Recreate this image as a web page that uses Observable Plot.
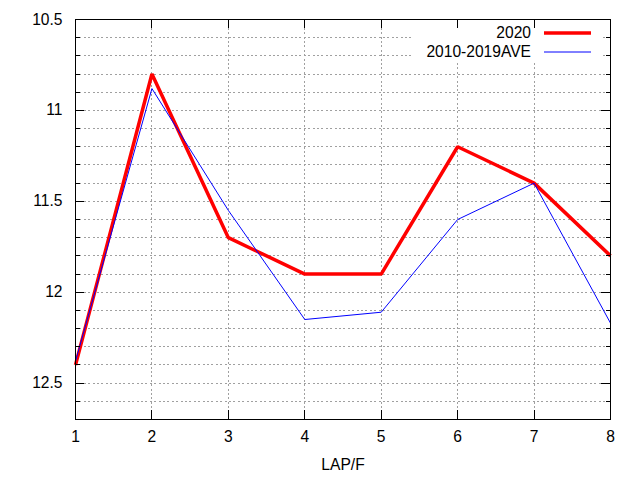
<!DOCTYPE html>
<html>
<head>
<meta charset="utf-8">
<script src="https://cdn.jsdelivr.net/npm/d3@7"></script>
<script src="https://cdn.jsdelivr.net/npm/@observablehq/plot@0.6"></script>
<style>
  html, body { margin: 0; padding: 0; background: #fff; }
  #chart svg { display: block; }
</style>
</head>
<body>
<div id="chart"></div>
<script>
const laps = [1, 2, 3, 4, 5, 6, 7, 8];
const series2020 = [12.4, 10.8, 11.7, 11.9, 11.9, 11.2, 11.4, 11.8];
const seriesAve = [12.38, 10.88, 11.55, 12.15, 12.11, 11.6, 11.4, 12.17];
const seriesNames = ["2020", "2010-2019AVE"];
const seriesColors = ["#ff0000", "#0000ff"];
const seriesWidths = [3.5, 1];
const yMajorTicks = [10.5, 11, 11.5, 12, 12.5];
const yMinorTicks = [10.6, 10.7, 10.8, 10.9, 11.1, 11.2, 11.3, 11.4, 11.6, 11.7, 11.8, 11.9, 12.1, 12.2, 12.3, 12.4, 12.6];
const yGridTicks = [10.6, 10.7, 10.8, 10.9, 11, 11.1, 11.2, 11.3, 11.4, 11.5, 11.6, 11.7, 11.8, 11.9, 12, 12.1, 12.2, 12.3, 12.4, 12.5, 12.6];
const xGridTicks = [2, 3, 4, 5, 6, 7];
const xLabel = "LAP/F";

(function () {
const data = [];
laps.forEach((lap, i) => {
  data.push({lap, time: series2020[i], series: seriesNames[0]});
});
laps.forEach((lap, i) => {
  data.push({lap, time: seriesAve[i], series: seriesNames[1]});
});

const font = "'Liberation Sans', Arial, Helvetica, sans-serif";
const fs = 15.6;
const gridStyle = {stroke: "#a0a0a0", strokeOpacity: 1, strokeWidth: 1, strokeDasharray: "2,2.4", shapeRendering: "crispEdges"};

const plot = Plot.plot({
  width: 640,
  height: 480,
  marginLeft: 75,
  marginTop: 19,
  marginRight: 30,
  marginBottom: 61,
  style: {fontFamily: font, fontSize: fs + "px", color: "#000", background: "#fff", overflow: "visible"},
  x: {domain: [1, 8]},
  y: {domain: [10.5, 12.7], reverse: true},
  marks: [
    Plot.gridY(yGridTicks, gridStyle),
    Plot.gridX(xGridTicks, gridStyle),
    Plot.axisY(yMajorTicks, {tickSize: 0, tickPadding: 13, tickFormat: d => String(d), label: null, fontSize: fs}),
    Plot.axisX(laps, {tickSize: 0, tickPadding: 11, tickFormat: d => String(d), label: null, fontSize: fs}),
    Plot.text([xLabel], {text: d => d, frameAnchor: "bottom", dy: 50, fontSize: fs}),
    ...seriesNames.map((name, i) =>
      Plot.line(data.filter(d => d.series === name), {
        x: "lap", y: "time", stroke: seriesColors[i], strokeWidth: seriesWidths[i], strokeLinejoin: "miter", strokeLinecap: "butt"
      })
    ),
    Plot.frame({stroke: "#000", strokeWidth: 1})
  ]
});

document.getElementById("chart").appendChild(plot);

const sx = plot.scale("x");
const sy = plot.scale("y");
const svg = d3.select(plot);
const xLeft = Math.min(...sx.range), xRight = Math.max(...sx.range);
const yTop = Math.min(...sy.range), yBottom = Math.max(...sy.range);
const tg = svg.append("g").attr("stroke", "#000").attr("stroke-width", 1).attr("shape-rendering", "crispEdges");
yMajorTicks.forEach(v => {
  const y = Math.round(sy.apply(v)) + 0.5;
  tg.append("line").attr("x1", xLeft).attr("x2", xLeft + 9).attr("y1", y).attr("y2", y);
  tg.append("line").attr("x1", xRight).attr("x2", xRight - 9).attr("y1", y).attr("y2", y);
});
yMinorTicks.forEach(v => {
  const y = Math.round(sy.apply(v)) + 0.5;
  tg.append("line").attr("x1", xLeft).attr("x2", xLeft + 4.5).attr("y1", y).attr("y2", y);
  tg.append("line").attr("x1", xRight).attr("x2", xRight - 4.5).attr("y1", y).attr("y2", y);
});
laps.forEach(v => {
  const x = Math.round(sx.apply(v)) + 0.5;
  tg.append("line").attr("x1", x).attr("x2", x).attr("y1", yBottom).attr("y2", yBottom - 9);
  tg.append("line").attr("x1", x).attr("x2", x).attr("y1", yTop).attr("y2", yTop + 9);
});

const lg = svg.append("g").attr("font-family", font).attr("font-size", fs);
lg.append("rect").attr("x", 413).attr("y", 20.5).attr("width", 190).attr("height", 42).attr("fill", "#fff");
seriesNames.forEach((name, i) => {
  const y = 33 + i * 19;
  lg.append("text").attr("x", 531).attr("y", y).attr("dy", "0.35em").attr("text-anchor", "end").attr("fill", "#000").text(name);
  lg.append("line").attr("x1", 544).attr("x2", 591).attr("y1", y).attr("y2", y)
    .attr("stroke", seriesColors[i]).attr("stroke-width", seriesWidths[i]);
});
svg.selectAll("[aria-label='line'], [aria-label='frame']").raise();
tg.raise();
})();
</script>
</body>
</html>
